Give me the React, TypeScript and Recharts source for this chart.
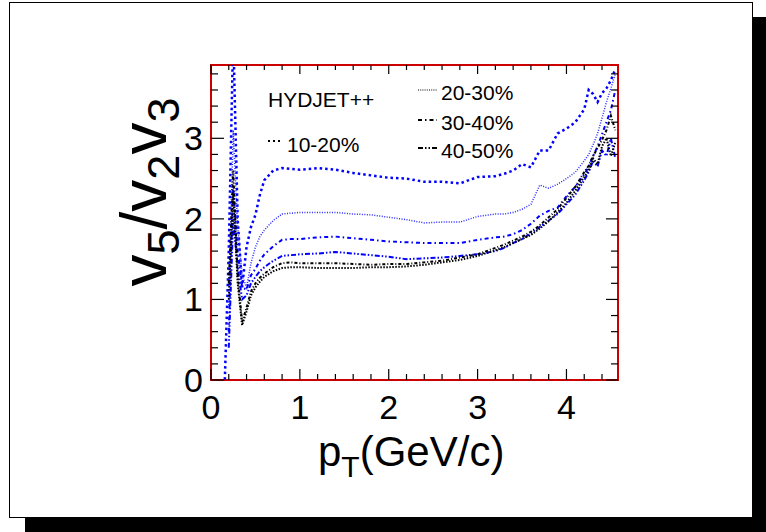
import { LineChart, Line, XAxis, YAxis, ReferenceArea } from "recharts";

const FONT = "'Liberation Sans', Arial, Helvetica, sans-serif";

// transverse momentum grid (GeV/c)
const pT = [
  0.15, 0.2, 0.25, 0.3, 0.35, 0.4, 0.45, 0.5, 0.55, 0.6, 0.7, 0.8, 0.9, 1.0, 1.2, 1.4, 1.6, 1.8, 2.0,
  2.2, 2.4, 2.6, 2.8, 3.0, 3.2, 3.3, 3.4, 3.5, 3.6, 3.7, 3.8, 3.9, 4.0, 4.1, 4.2, 4.25, 4.3, 4.35,
  4.4, 4.45, 4.5, 4.55,
];

// v5/(v2 v3), blue curves
const cent1020 = [
  -0.2, 1.6, 4.3, 2.0, 1.15, 1.65, 1.9, 2.05, 2.3, 2.48, 2.6, 2.63, 2.62, 2.61, 2.63, 2.61, 2.57, 2.54, 2.51,
  2.5, 2.46, 2.46, 2.44, 2.52, 2.53, 2.56, 2.6, 2.68, 2.64, 2.85, 2.85, 3.06, 3.12, 3.2, 3.36, 3.6, 3.55, 3.45,
  3.56, 3.62, 3.72, 3.86,
];
const cent2030 = [
  null, 0.9, 3.1, 1.9, 1.3, 1.15, 1.45, 1.65, 1.78, 1.86, 1.98, 2.06, 2.07, 2.08, 2.08, 2.08, 2.06, 2.05, 2.02,
  1.99, 1.95, 1.96, 1.96, 2.03, 2.06, 2.06, 2.08, 2.12, 2.18, 2.42, 2.38, 2.43, 2.5, 2.58, 2.72, 2.8, 2.92, 3.06,
  3.25, 3.45, 3.62, 3.8,
];
const cent3040 = [
  null, 0.6, 2.4, 1.6, 1.15, 1.12, 1.3, 1.38, 1.48, 1.56, 1.66, 1.74, 1.75, 1.75, 1.77, 1.78, 1.76, 1.74, 1.72,
  1.71, 1.7, 1.7, 1.7, 1.74, 1.77, 1.78, 1.81, 1.86, 1.94, 2.04, 2.1, 2.14, 2.28, 2.4, 2.55, 2.65, 2.78, 2.9,
  3.05, 3.2, 3.35, 3.6,
];
const cent4050 = [
  null, 0.4, 2.0, 1.4, 1.0, 1.05, 1.2, 1.28, 1.35, 1.4, 1.48, 1.54, 1.55, 1.56, 1.57, 1.59, 1.57, 1.55, 1.53,
  1.5, 1.51, 1.52, 1.54, 1.56, 1.6, 1.64, 1.7, 1.75, 1.82, 1.9, 1.98, 2.06, 2.18, 2.3, 2.48, 2.58, 2.72, 2.65,
  2.85, 2.78, 3.0, 2.75,
];

// black curves
const blackA = [
  null, 1.2, 2.6, 1.3, 0.72, 0.9, 1.1, 1.2, 1.27, 1.32, 1.4, 1.45, 1.46, 1.45, 1.45, 1.45, 1.44, 1.43, 1.44,
  1.44, 1.46, 1.48, 1.52, 1.56, 1.64, 1.68, 1.73, 1.78, 1.84, 1.92, 2.02, 2.12, 2.26, 2.4, 2.58, 2.66, 2.78, 2.88,
  2.98, 3.1, 3.28, 3.1,
];
const blackB = [
  null, 1.0, 2.3, 1.2, 0.68, 0.85, 1.05, 1.15, 1.22, 1.28, 1.35, 1.39, 1.4, 1.4, 1.39, 1.39, 1.39, 1.4, 1.4,
  1.41, 1.43, 1.46, 1.49, 1.54, 1.61, 1.65, 1.7, 1.75, 1.8, 1.88, 1.97, 2.08, 2.2, 2.35, 2.52, 2.6, 2.75, 2.68,
  2.9, 3.0, 2.78, 2.95,
];

const xTicks = [0, 0.2, 0.4, 0.6, 0.8, 1, 1.2, 1.4, 1.6, 1.8, 2, 2.2, 2.4, 2.6, 2.8, 3, 3.2, 3.4, 3.6, 3.8, 4, 4.2, 4.4];
const yTicks = [0, 0.2, 0.4, 0.6, 0.8, 1, 1.2, 1.4, 1.6, 1.8, 2, 2.2, 2.4, 2.6, 2.8, 3, 3.2, 3.4, 3.6, 3.8];

const X_MAX = 4.58;
const Y_MAX = 3.91;

const data = pT.map((x, i) => ({
  pT: x,
  c1: cent1020[i],
  c2: cent2030[i],
  c3: cent3040[i],
  c4: cent4050[i],
  b1: blackA[i],
  b2: blackB[i],
}));

// plot frame in page pixels
const PLOT = { left: 211, top: 65, right: 618, bottom: 380 };

const isMajor = (v: number) => Math.abs(v - Math.round(v)) < 1e-6;

const bottomTick = ({ x, payload }: any) => {
  const major = isMajor(payload.value);
  const y = PLOT.bottom;
  return (
    <g key={`b-${payload.value}`}>
      <line x1={x} x2={x} y1={y} y2={y - (major ? 11 : 6)} stroke="#000" strokeWidth={1.2} />
      {major && (
        <text x={x} y={y + 39} textAnchor="middle" fontSize={34} fontFamily={FONT} fill="#000">
          {Math.round(payload.value)}
        </text>
      )}
    </g>
  );
};

const topTick = ({ x, payload }: any) => {
  const major = isMajor(payload.value);
  const y = PLOT.top;
  return <line key={`t-${payload.value}`} x1={x} x2={x} y1={y} y2={y + (major ? 9 : 5)} stroke="#000" strokeWidth={1.2} />;
};

const leftTick = ({ y, payload }: any) => {
  const major = isMajor(payload.value);
  const x = PLOT.left;
  return (
    <g key={`l-${payload.value}`}>
      <line x1={x} x2={x + (major ? 13 : 7)} y1={y} y2={y} stroke="#000" strokeWidth={1.2} />
      {major && (
        <text x={x - 8} y={y + 12} textAnchor="end" fontSize={34} fontFamily={FONT} fill="#000">
          {Math.round(payload.value)}
        </text>
      )}
    </g>
  );
};

const rightTick = ({ y, payload }: any) => {
  const major = isMajor(payload.value);
  const x = PLOT.right;
  return <line key={`r-${payload.value}`} x1={x} x2={x - (major ? 12 : 7)} y1={y} y2={y} stroke="#000" strokeWidth={1.2} />;
};

export default function App() {
  return (
    <div style={{ position: "fixed", left: 0, top: 0, width: 766, height: 532, background: "#fff" }}>
      {/* canvas shadow + frame */}
      <div style={{ position: "absolute", left: 25, top: 17, width: 741, height: 515, background: "#000" }} />
      <div
        style={{
          position: "absolute",
          left: 9,
          top: 2,
          width: 742,
          height: 514,
          background: "#fff",
          border: "1px solid #000",
        }}
      />
      <div style={{ position: "absolute", left: 0, top: 0 }}>
        <LineChart
          width={766}
          height={532}
          data={data}
          margin={{ top: PLOT.top - 10, right: 766 - PLOT.right - 10, bottom: 532 - PLOT.bottom - 10, left: PLOT.left - 10 }}
        >
          <XAxis
            xAxisId="b"
            dataKey="pT"
            type="number"
            domain={[0, X_MAX]}
            allowDataOverflow
            ticks={xTicks}
            interval={0}
            height={10}
            tickLine={false}
            axisLine={false}
            tick={bottomTick}
          />
          <XAxis
            xAxisId="t"
            orientation="top"
            dataKey="pT"
            type="number"
            domain={[0, X_MAX]}
            allowDataOverflow
            ticks={xTicks}
            interval={0}
            height={10}
            tickLine={false}
            axisLine={false}
            tick={topTick}
          />
          <YAxis
            yAxisId="l"
            type="number"
            domain={[0, Y_MAX]}
            allowDataOverflow
            ticks={yTicks}
            interval={0}
            width={10}
            tickLine={false}
            axisLine={false}
            tick={leftTick}
          />
          <YAxis
            yAxisId="r"
            orientation="right"
            type="number"
            domain={[0, Y_MAX]}
            allowDataOverflow
            ticks={yTicks}
            interval={0}
            width={10}
            tickLine={false}
            axisLine={false}
            tick={rightTick}
          />
          <ReferenceArea
            xAxisId="b"
            yAxisId="l"
            x1={0}
            x2={X_MAX}
            y1={0}
            y2={Y_MAX}
            fill="none"
            stroke="#cc0000"
            strokeWidth={2}
            ifOverflow="visible"
          />
          <Line xAxisId="b" yAxisId="l" dataKey="c1" stroke="#0000ff" strokeWidth={2.5} strokeDasharray="2.5 3" dot={false} isAnimationActive={false} />
          <Line xAxisId="b" yAxisId="l" dataKey="c2" stroke="#2a2aff" strokeWidth={1.5} strokeDasharray="1 1.5" dot={false} isAnimationActive={false} />
          <Line xAxisId="b" yAxisId="l" dataKey="c3" stroke="#0000ff" strokeWidth={2} strokeDasharray="4 3 1.5 3" dot={false} isAnimationActive={false} />
          <Line xAxisId="b" yAxisId="l" dataKey="c4" stroke="#0000ff" strokeWidth={2} strokeDasharray="5 2 1.5 2 1.5 2" dot={false} isAnimationActive={false} />
          <Line xAxisId="b" yAxisId="l" dataKey="b1" stroke="#000" strokeWidth={2} strokeDasharray="3 2 1 2" dot={false} isAnimationActive={false} />
          <Line xAxisId="b" yAxisId="l" dataKey="b2" stroke="#000" strokeWidth={2} strokeDasharray="1.5 1.5" dot={false} isAnimationActive={false} />
        </LineChart>
      </div>
      <svg width={766} height={532} style={{ position: "absolute", left: 0, top: 0, pointerEvents: "none" }}>
        <g fontFamily={FONT} fill="#000">
          {/* legend */}
          <text x={268} y={107} fontSize={21}>HYDJET++</text>
          <line x1={268} x2={282} y1={141} y2={141} stroke="#000" strokeWidth={2} strokeDasharray="2 3" />
          <text x={287} y={152} fontSize={21}>10-20%</text>
          <line x1={418} x2={437} y1={90} y2={90} stroke="#000" strokeWidth={1.2} strokeDasharray="1 1.2" />
          <text x={441} y={100} fontSize={21}>20-30%</text>
          <line x1={418} x2={437} y1={120} y2={120} stroke="#000" strokeWidth={2} strokeDasharray="4 3 1.5 3" />
          <text x={441} y={130} fontSize={21}>30-40%</text>
          <line x1={418} x2={437} y1={148} y2={148} stroke="#000" strokeWidth={2} strokeDasharray="5 2 1.5 2 1.5 2" />
          <text x={441} y={158} fontSize={21}>40-50%</text>

          {/* axis titles */}
          <text x={318} y={466} fontSize={42}>
            p<tspan fontSize={30} dy={11}>T</tspan>
            <tspan fontSize={42} dy={-11}>(GeV/c)</tspan>
          </text>
          <text transform="translate(166,192) rotate(-90)" textAnchor="middle" fontSize={64}>
            v<tspan fontSize={45} dy={13}>5</tspan>
            <tspan fontSize={64} dy={-13}>/v</tspan>
            <tspan fontSize={45} dy={13}>2</tspan>
            <tspan fontSize={64} dy={-13}>v</tspan>
            <tspan fontSize={45} dy={13}>3</tspan>
          </text>
        </g>
      </svg>
    </div>
  );
}
